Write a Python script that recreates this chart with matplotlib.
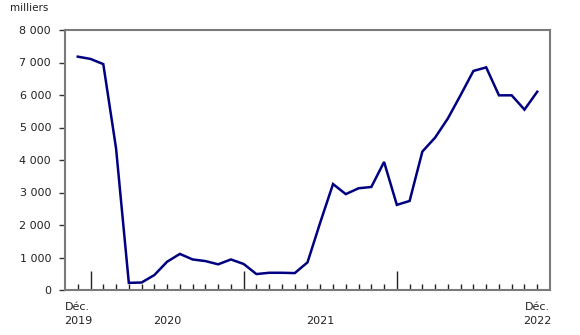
import numpy as np
import matplotlib.pyplot as plt
from matplotlib.ticker import FuncFormatter

# monthly values, Dec 2019 to Dec 2022 (thousands)
values = [7180, 7110, 6950, 4360, 220, 230, 460, 870, 1110, 940, 890, 790,
          940, 800, 490, 530, 530, 520, 850, 2080, 3260, 2950, 3130, 3170,
          3940, 2620, 2740, 4260, 4690, 5280, 6000, 6740, 6850, 5990, 5990,
          5550, 6100]
x_labels = ['Déc.\n2019', '\n2020', '\n2021', 'Déc.\n2022']
x_label_pos = [0, 7, 19, 36]
year_starts = [1, 13, 25]

months = np.arange(len(values))

fig = plt.figure(figsize=(5.8, 3.35), dpi=100)
ax = fig.add_axes([65 / 580, 1 - 290 / 335, 485 / 580, 260 / 335])

ax.plot(months, values, color='#000080', linewidth=1.8, solid_joinstyle='miter')

ax.set_xlim(-1, 37)
ax.set_ylim(0, 8000)

for s in ax.spines.values():
    s.set_color('#7a7a7a')
    s.set_linewidth(1.5)

ax.set_yticks(np.arange(0, 8001, 1000))
ax.yaxis.set_major_formatter(FuncFormatter(lambda v, p: f'{int(v):,}'.replace(',', ' ')))
ax.tick_params(axis='y', direction='out', length=4, width=1, color='#333333',
               labelsize=8, labelcolor='#222222', pad=6)

# month ticks inside, year starts longer
ax.set_xticks(months, minor=True)
ax.set_xticks(year_starts)
ax.set_xticklabels([])
ax.tick_params(axis='x', which='minor', direction='in', length=4, width=1, color='#222222')
ax.tick_params(axis='x', which='major', direction='in', length=14, width=1, color='#222222')

for pos, lab in zip(x_label_pos, x_labels):
    ax.text(pos, -0.045, lab, transform=ax.get_xaxis_transform(), ha='center',
            va='top', fontsize=8, color='#222222', linespacing=1.6)

fig.text(10 / 580, 1 - 8 / 335, 'milliers', fontsize=7.5, color='#222222', va='center')

plt.savefig('out.png', dpi=100)
